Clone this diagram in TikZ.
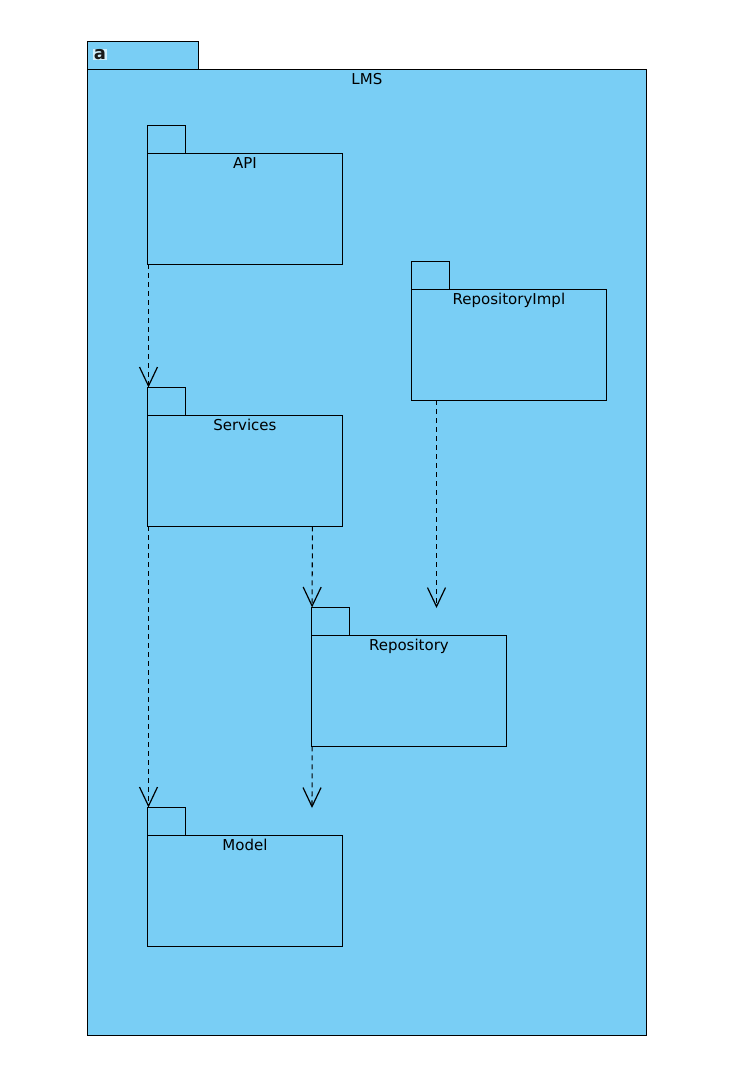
\documentclass[tikz,border=0pt]{standalone}
\usepackage{fontspec}
\setmainfont{DejaVu Sans}
\usetikzlibrary{arrows.meta}
\definecolor{pkgblue}{HTML}{79CEF5}
\tikzset{
    pkgbox/.style={draw=black, fill=pkgblue, line width=1.1pt, inner sep=0pt, outer sep=0pt, anchor=north west},
    pkglabel/.style={anchor=base, inner sep=0pt, font=\fontsize{15}{16}\selectfont},
    depends/.style={line width=1.05pt, dash pattern=on 5pt off 4pt, -{Straight Barb[length=19pt, width=18pt, line width=1.2pt]}}
}
% body, tab and label of one package: name, left, top of body, text
\newcommand{\umlpkg}[4]{
    \node[pkgbox, minimum width=38pt, minimum height=28pt] (#1tab) at (#2pt, -#3pt+28pt) {};
    \node[pkgbox, minimum width=195pt, minimum height=111pt] (#1) at (#2pt, -#3pt) {};
    \node[pkglabel] (#1label) at ([yshift=-15.5pt]#1.north) {#4};
}
\begin{document}
\begin{tikzpicture}
    \useasboundingbox (0pt, 0pt) rectangle (748pt, -1070pt);

    % Outer package
    \node[pkgbox, minimum width=111pt, minimum height=28pt] (LMStab) at (87.4pt, -41.4pt) {};
    \node[pkgbox, minimum width=559pt, minimum height=966pt] (LMS) at (87.4pt, -69.4pt) {};
    \node[pkglabel] (LMSlabel) at ([yshift=-15.5pt]LMS.north) {LMS};
    \node[inner sep=0.8pt, fill=white!65!pkgblue, text=black!90, font=\fontsize{18}{18}\selectfont\bfseries] (LMSicon) at (100pt, -54.5pt) {a};

    % Inner packages
    \umlpkg{API}{147.4}{153.4}{API}
    \umlpkg{Impl}{411.4}{289.4}{RepositoryImpl}
    \umlpkg{Services}{147.4}{415.4}{Services}
    \umlpkg{Repository}{311.4}{635.4}{Repository}
    \umlpkg{Model}{147.4}{835.4}{Model}

    % Free ends of the two arrows that stop short of a package
    \coordinate (ImplEnd) at (436.5pt, -608pt);
    \coordinate (RepoEnd) at (312pt, -808pt);

    % Dependencies
    \draw[depends] ([xshift=1.1pt]API.south west) -- ([xshift=1.1pt]Servicestab.north west);
    \draw[depends] ([xshift=1.1pt]Services.south west) -- ([xshift=1.1pt]Modeltab.north west);
    \draw[depends] ([xshift=165pt]Services.south west) -- ([xshift=0.7pt]Repositorytab.north west);
    \draw[depends] ([xshift=25.1pt]Impl.south west) -- (ImplEnd);
    \draw[depends] ([xshift=0.7pt]Repository.south west) -- (RepoEnd);
\end{tikzpicture}
\end{document}
